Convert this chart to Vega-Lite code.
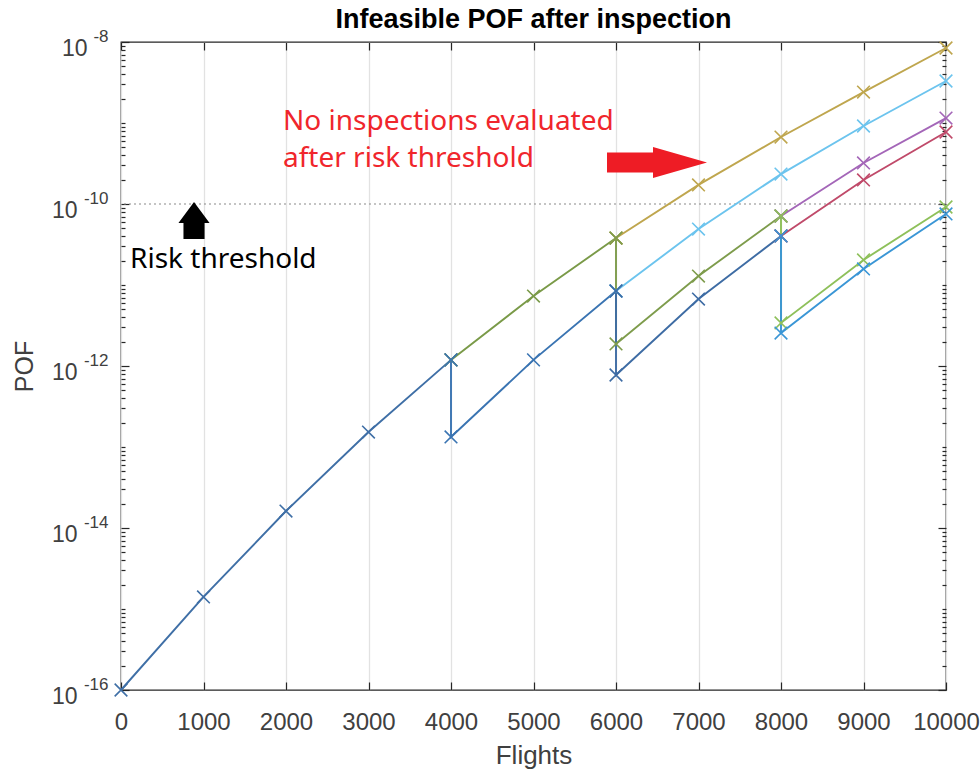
{
  "$schema": "https://vega.github.io/schema/vega-lite/v6.json",
  "width": 825,
  "height": 648,
  "autosize": {"type": "none"},
  "padding": {"left": 121, "top": 42, "right": 34, "bottom": 82},
  "background": "white",
  "title": {
    "text": "Infeasible POF after inspection",
    "font": "Liberation Sans",
    "fontSize": 27,
    "fontWeight": "bold",
    "color": "#000000",
    "anchor": "middle",
    "offset": -7
  },
  "config": {
    "view": {"stroke": "#262626", "strokeWidth": 1.3},
    "axis": {
      "domain": false,
      "labelFont": "Liberation Sans",
      "labelColor": "#404040",
      "titleFont": "Liberation Sans",
      "titleColor": "#404040",
      "titleFontWeight": "normal",
      "tickColor": "#262626",
      "tickWidth": 1.2
    }
  },
  "datasets": {
    "paths": [
      {"branch": "trunk", "seq": 0, "flights": 0, "pof": 1e-16},
      {"branch": "trunk", "seq": 1, "flights": 1000, "pof": 1.41e-15},
      {"branch": "trunk", "seq": 2, "flights": 2000, "pof": 1.62e-14},
      {"branch": "trunk", "seq": 3, "flights": 3000, "pof": 1.53e-13},
      {"branch": "trunk", "seq": 4, "flights": 4000, "pof": 1.19e-12},

      {"branch": "skip4000", "seq": 0, "flights": 4000, "pof": 1.19e-12},
      {"branch": "skip4000", "seq": 1, "flights": 5000, "pof": 7.31e-12},
      {"branch": "skip4000", "seq": 2, "flights": 6000, "pof": 3.8e-11},

      {"branch": "insp4000", "seq": 0, "flights": 4000, "pof": 1.19e-12},
      {"branch": "insp4000", "seq": 1, "flights": 4000, "pof": 1.33e-13},
      {"branch": "insp4000", "seq": 2, "flights": 5000, "pof": 1.19e-12},
      {"branch": "insp4000", "seq": 3, "flights": 6000, "pof": 8.43e-12},

      {"branch": "skip4000-skip6000", "seq": 0, "flights": 6000, "pof": 3.8e-11},
      {"branch": "skip4000-skip6000", "seq": 1, "flights": 7000, "pof": 1.72e-10},
      {"branch": "skip4000-skip6000", "seq": 2, "flights": 8000, "pof": 6.71e-10},
      {"branch": "skip4000-skip6000", "seq": 3, "flights": 9000, "pof": 2.41e-9},
      {"branch": "skip4000-skip6000", "seq": 4, "flights": 10000, "pof": 8.43e-9},

      {"branch": "skip4000-insp6000", "seq": 0, "flights": 6000, "pof": 3.8e-11},
      {"branch": "skip4000-insp6000", "seq": 1, "flights": 6000, "pof": 1.87e-12},
      {"branch": "skip4000-insp6000", "seq": 2, "flights": 7000, "pof": 1.29e-11},
      {"branch": "skip4000-insp6000", "seq": 3, "flights": 8000, "pof": 7.11e-11},

      {"branch": "insp4000-skip6000", "seq": 0, "flights": 6000, "pof": 8.43e-12},
      {"branch": "insp4000-skip6000", "seq": 1, "flights": 7000, "pof": 4.91e-11},
      {"branch": "insp4000-skip6000", "seq": 2, "flights": 8000, "pof": 2.34e-10},
      {"branch": "insp4000-skip6000", "seq": 3, "flights": 9000, "pof": 9.18e-10},
      {"branch": "insp4000-skip6000", "seq": 4, "flights": 10000, "pof": 3.3e-9},

      {"branch": "insp4000-insp6000", "seq": 0, "flights": 6000, "pof": 8.43e-12},
      {"branch": "insp4000-insp6000", "seq": 1, "flights": 6000, "pof": 7.74e-13},
      {"branch": "insp4000-insp6000", "seq": 2, "flights": 7000, "pof": 6.71e-12},
      {"branch": "insp4000-insp6000", "seq": 3, "flights": 8000, "pof": 4.03e-11},

      {"branch": "skip4000-insp6000-skip8000", "seq": 0, "flights": 8000, "pof": 7.11e-11},
      {"branch": "skip4000-insp6000-skip8000", "seq": 1, "flights": 9000, "pof": 3.21e-10},
      {"branch": "skip4000-insp6000-skip8000", "seq": 2, "flights": 10000, "pof": 1.15e-9},

      {"branch": "insp4000-insp6000-skip8000", "seq": 0, "flights": 8000, "pof": 4.03e-11},
      {"branch": "insp4000-insp6000-skip8000", "seq": 1, "flights": 9000, "pof": 1.98e-10},
      {"branch": "insp4000-insp6000-skip8000", "seq": 2, "flights": 10000, "pof": 7.74e-10},

      {"branch": "skip4000-insp6000-insp8000", "seq": 0, "flights": 8000, "pof": 7.11e-11},
      {"branch": "skip4000-insp6000-insp8000", "seq": 1, "flights": 8000, "pof": 3.4e-12},
      {"branch": "skip4000-insp6000-insp8000", "seq": 2, "flights": 9000, "pof": 2.04e-11},
      {"branch": "skip4000-insp6000-insp8000", "seq": 3, "flights": 10000, "pof": 9.18e-11},

      {"branch": "insp4000-insp6000-insp8000", "seq": 0, "flights": 8000, "pof": 4.03e-11},
      {"branch": "insp4000-insp6000-insp8000", "seq": 1, "flights": 8000, "pof": 2.55e-12},
      {"branch": "insp4000-insp6000-insp8000", "seq": 2, "flights": 9000, "pof": 1.58e-11},
      {"branch": "insp4000-insp6000-insp8000", "seq": 3, "flights": 10000, "pof": 7.53e-11}
    ]
  },
  "resolve": {"axis": {"x": "independent", "y": "independent"}},
  "layer": [
    {
      "data": {"values": [{"pof": 1e-10}]},
      "mark": {"type": "rule", "color": "#8a8a8a", "strokeWidth": 1.2, "strokeDash": [2, 3]},
      "encoding": {
        "y": {
          "field": "pof",
          "type": "quantitative",
          "scale": {"type": "log", "domain": [1e-16, 1e-8], "nice": false},
          "axis": {
            "orient": "left",
            "values": [1e-16, 1e-14, 1e-12, 1e-10, 1e-8],
            "labelExpr": "datum.value == 1e-8 ? '-8' : datum.value == 1e-10 ? '-10' : datum.value == 1e-12 ? '-12' : datum.value == 1e-14 ? '-14' : '-16'",
            "ticks": false,
            "tickSize": 0,
            "grid": false,
            "labelFontSize": 17,
            "labelPadding": 13,
            "labelAlign": "right",
            "labelOffset": -6,
            "labelOverlap": false,
            "labelFlush": false,
            "title": null
          }
        }
      }
    },
    {
      "data": {"name": "paths"},
      "mark": {"type": "line", "strokeWidth": 1.9},
      "encoding": {
        "x": {
          "field": "flights",
          "type": "quantitative",
          "scale": {"domain": [0, 10000], "nice": false, "zero": false},
          "axis": {
            "orient": "bottom",
            "values": [0, 1000, 2000, 3000, 4000, 5000, 6000, 7000, 8000, 9000, 10000],
            "format": "d",
            "grid": true,
            "gridColor": "#e2e2e2",
            "gridWidth": 1.3,
            "tickSize": -8,
            "labelFontSize": 24,
            "labelPadding": 28,
            "labelFlush": false,
            "title": "Flights",
            "titleFontSize": 26,
            "titlePadding": 8
          }
        },
        "y": {
          "field": "pof",
          "type": "quantitative",
          "scale": {"type": "log", "domain": [1e-16, 1e-8], "nice": false},
          "axis": {
            "orient": "left",
            "values": [1e-16, 2e-16, 3e-16, 4e-16, 5e-16, 6e-16, 7e-16, 8e-16, 9e-16,
                       1e-15, 2e-15, 3e-15, 4e-15, 5e-15, 6e-15, 7e-15, 8e-15, 9e-15,
                       1e-14, 2e-14, 3e-14, 4e-14, 5e-14, 6e-14, 7e-14, 8e-14, 9e-14,
                       1e-13, 2e-13, 3e-13, 4e-13, 5e-13, 6e-13, 7e-13, 8e-13, 9e-13,
                       1e-12, 2e-12, 3e-12, 4e-12, 5e-12, 6e-12, 7e-12, 8e-12, 9e-12,
                       1e-11, 2e-11, 3e-11, 4e-11, 5e-11, 6e-11, 7e-11, 8e-11, 9e-11,
                       1e-10, 2e-10, 3e-10, 4e-10, 5e-10, 6e-10, 7e-10, 8e-10, 9e-10,
                       1e-9, 2e-9, 3e-9, 4e-9, 5e-9, 6e-9, 7e-9, 8e-9, 9e-9, 1e-8],
            "labelExpr": "datum.value == 1e-8 || datum.value == 1e-10 || datum.value == 1e-12 || datum.value == 1e-14 || datum.value == 1e-16 ? '10' : ''",
            "tickSize": {"condition": {"test": "datum.value == 1e-8 || datum.value == 1e-10 || datum.value == 1e-12 || datum.value == 1e-14 || datum.value == 1e-16", "value": -8}, "value": -4},
            "labelPadding": {"condition": {"test": "datum.value == 1e-8", "value": 42}, "value": 52},
            "labelFontSize": 23,
            "labelOffset": 6,
            "labelOverlap": false,
            "labelFlush": false,
            "grid": false,
            "title": "POF",
            "titleFontSize": 25,
            "titlePadding": 14
          }
        },
        "color": {
          "field": "branch",
          "type": "nominal",
          "legend": null,
          "scale": {
            "domain": ["trunk", "skip4000", "insp4000", "skip4000-skip6000", "skip4000-insp6000",
                       "insp4000-skip6000", "insp4000-insp6000", "skip4000-insp6000-skip8000",
                       "insp4000-insp6000-skip8000", "skip4000-insp6000-insp8000", "insp4000-insp6000-insp8000"],
            "range": ["#3f6fa6", "#7a9a48", "#3a74b2", "#bfa64e", "#7e9c4c",
                      "#6cc4ee", "#3e6ca4", "#a466b8", "#c04a6a", "#8ec05a", "#3a96d6"]
          }
        },
        "order": {"field": "seq", "type": "quantitative"}
      }
    },
    {
      "data": {"name": "paths"},
      "mark": {
        "type": "point",
        "shape": "M-1,-1L1,1M-1,1L1,-1",
        "filled": false,
        "size": 160,
        "strokeWidth": 1.6,
        "opacity": 1
      },
      "encoding": {
        "x": {
          "field": "flights",
          "type": "quantitative",
          "scale": {"domain": [0, 10000], "nice": false, "zero": false},
          "axis": {
            "orient": "top",
            "values": [0, 1000, 2000, 3000, 4000, 5000, 6000, 7000, 8000, 9000, 10000],
            "labels": false,
            "grid": false,
            "tickSize": -8,
            "title": null
          }
        },
        "y": {
          "field": "pof",
          "type": "quantitative",
          "scale": {"type": "log", "domain": [1e-16, 1e-8], "nice": false},
          "axis": {
            "orient": "right",
            "values": [1e-16, 2e-16, 3e-16, 4e-16, 5e-16, 6e-16, 7e-16, 8e-16, 9e-16,
                       1e-15, 2e-15, 3e-15, 4e-15, 5e-15, 6e-15, 7e-15, 8e-15, 9e-15,
                       1e-14, 2e-14, 3e-14, 4e-14, 5e-14, 6e-14, 7e-14, 8e-14, 9e-14,
                       1e-13, 2e-13, 3e-13, 4e-13, 5e-13, 6e-13, 7e-13, 8e-13, 9e-13,
                       1e-12, 2e-12, 3e-12, 4e-12, 5e-12, 6e-12, 7e-12, 8e-12, 9e-12,
                       1e-11, 2e-11, 3e-11, 4e-11, 5e-11, 6e-11, 7e-11, 8e-11, 9e-11,
                       1e-10, 2e-10, 3e-10, 4e-10, 5e-10, 6e-10, 7e-10, 8e-10, 9e-10,
                       1e-9, 2e-9, 3e-9, 4e-9, 5e-9, 6e-9, 7e-9, 8e-9, 9e-9, 1e-8],
            "labels": false,
            "grid": false,
            "tickSize": {"condition": {"test": "datum.value == 1e-8 || datum.value == 1e-10 || datum.value == 1e-12 || datum.value == 1e-14 || datum.value == 1e-16", "value": -8}, "value": -4},
            "title": null
          }
        },
        "color": {
          "field": "branch",
          "type": "nominal",
          "legend": null,
          "scale": {
            "domain": ["trunk", "skip4000", "insp4000", "skip4000-skip6000", "skip4000-insp6000",
                       "insp4000-skip6000", "insp4000-insp6000", "skip4000-insp6000-skip8000",
                       "insp4000-insp6000-skip8000", "skip4000-insp6000-insp8000", "insp4000-insp6000-insp8000"],
            "range": ["#3f6fa6", "#7a9a48", "#3a74b2", "#bfa64e", "#7e9c4c",
                      "#6cc4ee", "#3e6ca4", "#a466b8", "#c04a6a", "#8ec05a", "#3a96d6"]
          }
        }
      }
    },
    {
      "data": {"values": [{}]},
      "mark": {
        "type": "text",
        "text": ["No inspections evaluated", "after risk threshold"],
        "font": "Noto Sans",
        "fontSize": 28,
        "lineHeight": 37,
        "align": "left",
        "baseline": "alphabetic",
        "color": "#f0262c"
      },
      "encoding": {
        "x": {"datum": 1964, "type": "quantitative", "axis": null},
        "y": {"datum": 8.2e-10, "type": "quantitative", "scale": {"type": "log"}, "axis": null}
      }
    },
    {
      "data": {"values": [{}]},
      "mark": {
        "type": "text",
        "text": "Risk threshold",
        "font": "Noto Sans",
        "fontSize": 28,
        "align": "left",
        "baseline": "alphabetic",
        "color": "#000000"
      },
      "encoding": {
        "x": {"datum": 109, "type": "quantitative", "axis": null},
        "y": {"datum": 1.62e-11, "type": "quantitative", "scale": {"type": "log"}, "axis": null}
      }
    },
    {
      "data": {"values": [{}]},
      "mark": {
        "type": "point",
        "shape": "M0,-1L0.84,0.13L0.57,0.13L0.57,1L-0.57,1L-0.57,0.13L-0.84,0.13Z",
        "filled": true,
        "size": 1369,
        "color": "#000000",
        "opacity": 1
      },
      "encoding": {
        "x": {"datum": 885, "type": "quantitative", "axis": null},
        "y": {"datum": 6.25e-11, "type": "quantitative", "scale": {"type": "log"}, "axis": null}
      }
    },
    {
      "data": {"values": [{}]},
      "mark": {
        "type": "point",
        "shape": "M1,0L-0.08,-0.31L-0.08,-0.2L-1,-0.2L-1,0.2L-0.08,0.2L-0.08,0.31Z",
        "filled": true,
        "size": 10000,
        "color": "#ee1c25",
        "opacity": 1
      },
      "encoding": {
        "x": {"datum": 6497, "type": "quantitative", "axis": null},
        "y": {"datum": 3.25e-10, "type": "quantitative", "scale": {"type": "log"}, "axis": null}
      }
    }
  ]
}
